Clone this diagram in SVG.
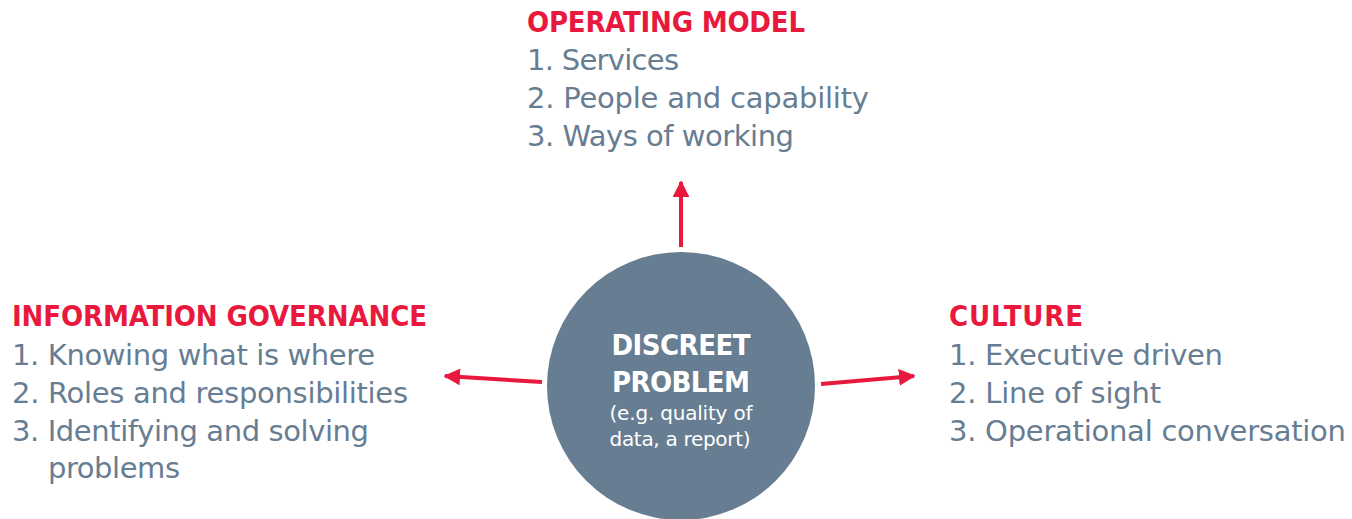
<svg xmlns="http://www.w3.org/2000/svg" width="1352" height="519" viewBox="0 0 1352 519">
  <defs>
    <style>
      .head { font-family: "DejaVu Sans Condensed", "DejaVu Sans", Verdana, sans-serif; font-weight: bold; font-size: 29px; fill: #e8193c; }
      .item { font-family: "DejaVu Sans", Verdana, sans-serif; font-size: 29px; fill: #677d92; }
      .ctitle { font-family: "DejaVu Sans Condensed", "DejaVu Sans", Verdana, sans-serif; font-weight: bold; font-size: 29px; fill: #ffffff; text-anchor: middle; }
      .csub { font-family: "DejaVu Sans", Verdana, sans-serif; font-size: 20px; fill: #ffffff; text-anchor: middle; }
      .link { stroke: #e8193c; stroke-width: 4; fill: none; }
    </style>
    <marker id="arrowhead" viewBox="0 0 10 10" refX="9" refY="5" markerWidth="4.2" markerHeight="4.2" orient="auto" markerUnits="strokeWidth">
      <path d="M0,0 L10,5 L0,10 Z" fill="#e8193c"/>
    </marker>
  </defs>
  <rect width="1352" height="519" fill="#ffffff"/>

  <!-- connectors from the central problem to each area -->
  <g id="connectors">
    <line class="link" x1="681" y1="247" x2="681" y2="182" marker-end="url(#arrowhead)"/>
    <line class="link" x1="542" y1="382" x2="445" y2="376" marker-end="url(#arrowhead)"/>
    <line class="link" x1="821" y1="384" x2="914" y2="376" marker-end="url(#arrowhead)"/>
  </g>

  <!-- central node -->
  <g id="discreet-problem">
    <circle cx="681" cy="386" r="134" fill="#677d92"/>
    <text class="ctitle" x="681" y="355" textLength="139">DISCREET</text>
    <text class="ctitle" x="681" y="392" textLength="138">PROBLEM</text>
    <text class="csub" x="681" y="420" textLength="143">(e.g. quality of</text>
    <text class="csub" x="680" y="446" textLength="141">data, a report)</text>
  </g>

  <!-- top area -->
  <g id="operating-model">
    <text class="head" x="527" y="32" textLength="278">OPERATING MODEL</text>
    <text class="item" x="527" y="70" textLength="152">1. Services</text>
    <text class="item" x="527" y="108" textLength="342">2. People and capability</text>
    <text class="item" x="527" y="146" textLength="267">3. Ways of working</text>
  </g>

  <!-- left area -->
  <g id="information-governance">
    <text class="head" x="12" y="326" textLength="415">INFORMATION GOVERNANCE</text>
    <text class="item" x="12" y="365" textLength="363">1. Knowing what is where</text>
    <text class="item" x="12" y="403" textLength="396">2. Roles and responsibilities</text>
    <text class="item" x="12" y="441" textLength="357">3. Identifying and solving</text>
    <text class="item" x="48" y="478" textLength="132">problems</text>
  </g>

  <!-- right area -->
  <g id="culture">
    <text class="head" x="949" y="326" textLength="134">CULTURE</text>
    <text class="item" x="949" y="365" textLength="274">1. Executive driven</text>
    <text class="item" x="949" y="403" textLength="212">2. Line of sight</text>
    <text class="item" x="949" y="441" textLength="397">3. Operational conversation</text>
  </g>
</svg>
